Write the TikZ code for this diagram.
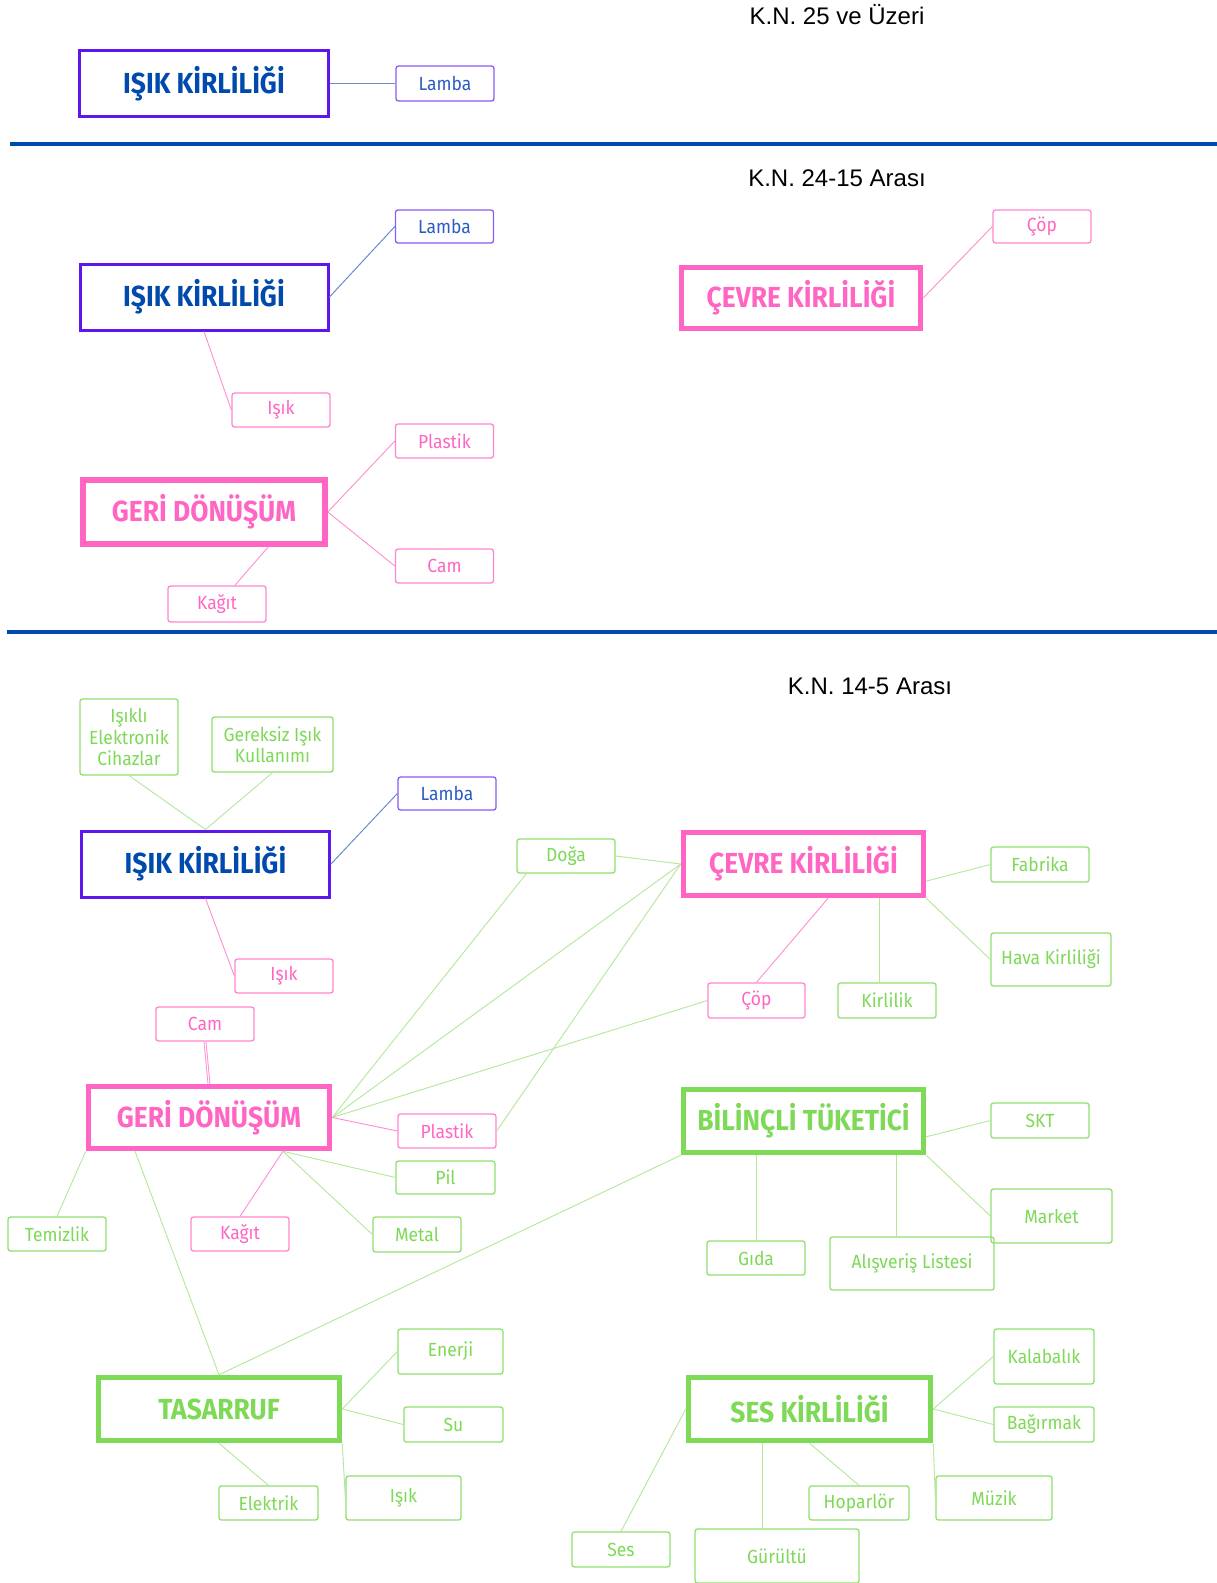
\documentclass[tikz,border=0pt]{standalone}
\usepackage{fontspec}
\setmainfont{Liberation Sans}
\newfontfamily\headfont[FakeStretch=0.91]{Fira Sans}
\newfontfamily\leaffont[FakeStretch=0.92]{Fira Sans}
\usetikzlibrary{calc}

\definecolor{violetc}{HTML}{5E17EB}
\definecolor{navyc}{HTML}{004AAD}
\definecolor{pinkc}{HTML}{FF66C4}
\definecolor{greenc}{HTML}{7ED957}
\definecolor{lambablue}{HTML}{2B5BC4}
\definecolor{lambaedge}{HTML}{8A5CF5}
\definecolor{bluelink}{HTML}{6A8BD0}

\tikzset{
  wh/.style 2 args={minimum width=#1pt, minimum height=#2pt},
  topic/.style={rectangle, inner sep=0pt, font=\headfont\bfseries\fontsize{29}{31}\selectfont},
  violettopic/.style={topic, draw=violetc, line width=3pt, text=navyc},
  pinktopic/.style={topic, draw=pinkc, line width=5.5pt, text=pinkc},
  greentopic/.style={topic, draw=greenc, line width=5.5pt, text=greenc},
  leaf/.style={rectangle, rounded corners=2.5pt, inner sep=0pt, line width=1.3pt,
    font=\leaffont\fontsize{19}{21.5}\selectfont, align=center},
  lambaleaf/.style={leaf, draw=lambaedge, text=lambablue},
  pinkleaf/.style={leaf, draw=pinkc!80, text=pinkc},
  greenleaf/.style={leaf, draw=greenc!85, text=greenc},
  title/.style={font=\fontsize{24}{26}\selectfont, text=black, inner sep=0pt},
  gl/.style={draw=greenc!60, line width=0.9pt},
  pl/.style={draw=pinkc!75, line width=0.9pt},
  bl/.style={draw=bluelink, line width=1pt},
  sep/.style={draw=navyc, line width=4pt},
}

\begin{document}
\begin{tikzpicture}[x=1pt, y=-1pt]
\fill[white] (0,0) rectangle (1217,1583);
\useasboundingbox (0,0) rectangle (1217,1583);

% ---------- K.N. 25 ve Üzeri ----------
\node[title] (t1) at (837,15) {K.N. 25 ve Üzeri};
\node[violettopic, wh={249}{66}] (ik1) at (204,83.5) {IŞIK KİRLİLİĞİ};
\node[lambaleaf, wh={98}{35}] (lamba1) at (445,83.5) {Lamba};
\draw[bl] (ik1.east) -- (lamba1.west);

\coordinate (s1a) at (10,144);
\coordinate (s1b) at (1217,144);
\draw[sep] (s1a) -- (s1b);

% ---------- K.N. 24-15 Arası ----------
\node[title] (t2) at (837,178) {K.N. 24-15 Arası};
\node[lambaleaf, wh={98}{33}] (lamba2) at (444.5,226.5) {Lamba};
\node[violettopic, wh={248}{66}] (ik2) at (204,297) {IŞIK KİRLİLİĞİ};
\node[pinkleaf, wh={98}{34}] (isik2) at (281,410) {Işık};
\node[pinktopic, wh={242}{64}] (geri2) at (204,512) {GERİ DÖNÜŞÜM};
\node[pinkleaf, wh={98}{34}] (plastik2) at (444.5,441) {Plastik};
\node[pinkleaf, wh={98}{34}] (cam2) at (444.5,566) {Cam};
\node[pinkleaf, wh={98}{36}] (kagit2) at (217,604) {Kağıt};
\node[pinktopic, wh={239}{61}] (cevre2) at (801,298) {ÇEVRE KİRLİLİĞİ};
\node[pinkleaf, wh={98}{33}] (cop2) at (1042,226.5) {Çöp};

\draw[bl] (ik2.east) -- (lamba2.west);
\draw[pl] (ik2.south) -- (isik2.west);
\draw[pl] (geri2.east) -- (plastik2.west);
\draw[pl] (geri2.east) -- (cam2.west);
\draw[pl] ($(geri2.south west)!0.76!(geri2.south east)$) -- ($(kagit2.north west)!0.68!(kagit2.north east)$);
\draw[pl] (cevre2.east) -- (cop2.west);

\coordinate (s2a) at (7,632);
\coordinate (s2b) at (1217,632);
\draw[sep] (s2a) -- (s2b);

% ---------- K.N. 14-5 Arası ----------
\node[title] (t3) at (870,686) {K.N. 14-5 Arası};

% light pollution
\node[greenleaf, wh={98}{76}] (iec) at (129,737) {Işıklı\\Elektronik\\Cihazlar};
\node[greenleaf, wh={121}{55}] (gereksiz) at (272.5,744.5) {Gereksiz Işık\\Kullanımı};
\node[lambaleaf, wh={98}{33}] (lamba3) at (447,793.5) {Lamba};
\node[violettopic, wh={248}{66}] (ik3) at (205.5,864) {IŞIK KİRLİLİĞİ};
\node[pinkleaf, wh={98}{34}] (isik3) at (284,976) {Işık};

% environmental pollution
\node[greenleaf, wh={98}{34}] (doga) at (566,856) {Doğa};
\node[pinktopic, wh={240}{63}] (cevre3) at (803.5,864) {ÇEVRE KİRLİLİĞİ};
\node[greenleaf, wh={98}{35}] (fabrika) at (1040,864.5) {Fabrika};
\node[greenleaf, wh={120}{53}] (hava) at (1051,959.5) {Hava Kirliliği};
\node[pinkleaf, wh={97}{35}] (cop3) at (756.5,1000.5) {Çöp};
\node[greenleaf, wh={98}{35}] (kirlilik) at (887,1000.5) {Kirlilik};

% recycling
\node[pinkleaf, wh={98}{34}] (cam3) at (205,1024) {Cam};
\node[pinktopic, wh={241}{62}] (geri3) at (209,1117.5) {GERİ DÖNÜŞÜM};
\node[pinkleaf, wh={98}{34}] (plastik3) at (447,1131) {Plastik};
\node[greenleaf, wh={99}{33}] (pil) at (445.5,1177.5) {Pil};
\node[greenleaf, wh={98}{34}] (temizlik) at (57,1234) {Temizlik};
\node[pinkleaf, wh={98}{34}] (kagit3) at (240,1234) {Kağıt};
\node[greenleaf, wh={88}{35}] (metal) at (417,1234.5) {Metal};

% conscious consumer
\node[greentopic, wh={240}{63}] (bilincli) at (803.5,1121) {BİLİNÇLİ TÜKETİCİ};
\node[greenleaf, wh={98}{35}] (skt) at (1040,1120.5) {SKT};
\node[greenleaf, wh={121}{54}] (market) at (1051.5,1216) {Market};
\node[greenleaf, wh={98}{34}] (gida) at (756,1258) {Gıda};
\node[greenleaf, wh={164}{53}] (alisveris) at (912,1263.5) {Alışveriş Listesi};

% saving
\node[greentopic, wh={241}{63}] (tasarruf) at (219,1409) {TASARRUF};
\node[greenleaf, wh={105}{45}] (enerji) at (450.5,1351.5) {Enerji};
\node[greenleaf, wh={99}{35}] (su) at (453.5,1424.5) {Su};
\node[greenleaf, wh={99}{34}] (elektrik) at (268.5,1503) {Elektrik};
\node[greenleaf, wh={115}{44}] (isik4) at (403.5,1498) {Işık};

% noise pollution
\node[greentopic, wh={242}{63}] (ses) at (809.5,1409) {SES KİRLİLİĞİ};
\node[greenleaf, wh={100}{55}] (kalabalik) at (1044,1356.5) {Kalabalık};
\node[greenleaf, wh={100}{35}] (bagirmak) at (1044,1424.5) {Bağırmak};
\node[greenleaf, wh={116}{44}] (muzik) at (994,1498) {Müzik};
\node[greenleaf, wh={100}{34}] (hoparlor) at (859,1503) {Hoparlör};
\node[greenleaf, wh={98}{35}] (sesk) at (621,1549.5) {Ses};
\node[greenleaf, wh={164}{54}] (gurultu) at (777,1556) {Gürültü};

% links: light pollution
\draw[gl] (iec.south) -- (ik3.north);
\draw[gl] (gereksiz.south) -- (ik3.north);
\draw[bl] (ik3.east) -- (lamba3.west);
\draw[pl] (ik3.south) -- (isik3.west);

% links: environmental pollution
\draw[gl] (doga.east) -- (cevre3.west);
\draw[gl] ($(cevre3.north east)!0.75!(cevre3.south east)$) -- (fabrika.west);
\draw[gl] (cevre3.south east) -- (hava.west);
\draw[pl] ($(cevre3.south west)!0.6!(cevre3.south east)$) -- (cop3.north);
\coordinate (cvk) at ($(cevre3.south west)!0.81!(cevre3.south east)$);
\draw[gl] (cvk) -- (cvk |- kirlilik.north);

% links: recycling
\draw[gl] ($(doga.south west)!0.1!(doga.south east)$) -- (geri3.east);
\draw[gl] (cevre3.west) -- (geri3.east);
\draw[gl] (cop3.west) -- (geri3.east);
\draw[gl] (plastik3.east) -- (cevre3.west);
\draw[pl] (geri3.east) -- (plastik3.west);
\draw[pl, double=white, double distance=1pt] (cam3.south) -- (geri3.north);
\coordinate (gb) at ($(geri3.south west)!0.8!(geri3.south east)$);
\draw[pl] (gb) -- (kagit3.north);
\draw[gl] (gb) -- (pil.west);
\draw[gl] (gb) -- (metal.west);
\draw[gl] (geri3.south west) -- (temizlik.north);
\draw[gl] ($(geri3.south west)!0.2!(geri3.south east)$) -- (tasarruf.north);

% links: conscious consumer
\draw[gl] (bilincli.south west) -- (tasarruf.north);
\draw[gl] ($(bilincli.north east)!0.73!(bilincli.south east)$) -- (skt.west);
\draw[gl] (bilincli.south east) -- (market.west);
\coordinate (bg) at ($(bilincli.south west)!0.31!(bilincli.south east)$);
\draw[gl] (bg) -- (bg |- gida.north);
\coordinate (ba) at ($(bilincli.south west)!0.88!(bilincli.south east)$);
\draw[gl] (ba) -- (ba |- alisveris.north);

% links: saving
\draw[gl] (tasarruf.east) -- (enerji.west);
\draw[gl] (tasarruf.east) -- (su.west);
\draw[gl] (tasarruf.south) -- (elektrik.north);
\draw[gl] (tasarruf.south east) -- (isik4.west);

% links: noise pollution
\draw[gl] (ses.east) -- (kalabalik.west);
\draw[gl] (ses.east) -- (bagirmak.west);
\draw[gl] (ses.south east) -- (muzik.west);
\draw[gl] (ses.south) -- (hoparlor.north);
\coordinate (sg) at ($(ses.south west)!0.31!(ses.south east)$);
\draw[gl] (sg) -- (sg |- gurultu.north);
\draw[gl] (ses.west) -- (sesk.north);
\end{tikzpicture}
\end{document}
